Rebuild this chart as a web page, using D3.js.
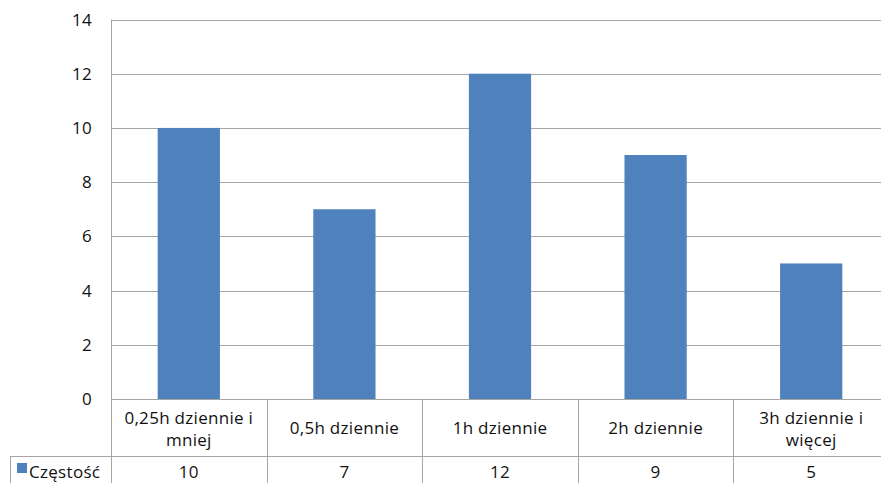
<!DOCTYPE html>
<html>
<head>
<meta charset="utf-8">
<script src="https://cdn.jsdelivr.net/npm/d3@7"></script>
<style>
  html, body { margin: 0; padding: 0; background: #fff; overflow: hidden; }
  svg { display: block; }
  text { font-family: "Open Sans", Lato, sans-serif; fill: #111; letter-spacing: 0.3px; }
</style>
</head>
<body>
<script>
// Daily time categories and their frequencies
const categories = [
  ["0,25h dziennie i", "mniej"],
  ["0,5h dziennie"],
  ["1h dziennie"],
  ["2h dziennie"],
  ["3h dziennie i", "więcej"]
];
const seriesName = "Częstość";
const values = [10, 7, 12, 9, 5];
const yTicks = [0, 2, 4, 6, 8, 10, 12, 14];

const W = 881, H = 483;
const plotLeft = 111, plotRight = 889, plotTop = 19.5, base = 399;
const rowMid = 456, rowBottom = 490, legendLeft = 10;
const gridColor = "#a6a6a6";
const barColor = "#4f81bd";
const fontSize = "17px";

const svg = d3.select("body").append("svg")
  .attr("width", W).attr("height", H);

const keys = categories.map((c, i) => "c" + i);
const x = d3.scaleBand().domain(keys).range([plotLeft, plotRight]).paddingInner(0).paddingOuter(0);
const y = d3.scaleLinear().domain([0, 14]).range([base, plotTop]);

// Horizontal gridlines
svg.append("g").selectAll("line").data(yTicks.slice(1)).join("line")
  .attr("x1", plotLeft).attr("x2", plotRight)
  .attr("y1", d => Math.round(y(d)) + 0.5).attr("y2", d => Math.round(y(d)) + 0.5)
  .attr("stroke", gridColor).attr("stroke-width", 1);

// Tick labels
svg.append("g").selectAll("text").data(yTicks).join("text")
  .attr("x", 92).attr("y", d => y(d) + 6)
  .attr("text-anchor", "end")
  .style("font-size", fontSize)
  .text(d => d);

// Bars
const bw = x.bandwidth() * 0.4;
svg.append("g").selectAll("rect").data(values).join("rect")
  .attr("x", (d, i) => x(keys[i]) + (x.bandwidth() - bw) / 2)
  .attr("width", bw)
  .attr("y", d => y(d))
  .attr("height", d => y(0) - y(d))
  .attr("fill", barColor);

// Data table lines
const g = svg.append("g").attr("stroke", gridColor).attr("stroke-width", 1);
g.append("line").attr("x1", plotLeft).attr("x2", plotRight).attr("y1", base + 0.5).attr("y2", base + 0.5);
g.append("line").attr("x1", legendLeft).attr("x2", plotRight).attr("y1", rowMid + 0.5).attr("y2", rowMid + 0.5);
// Left axis line running down through the table
g.append("line").attr("x1", plotLeft + 0.5).attr("x2", plotLeft + 0.5).attr("y1", plotTop).attr("y2", rowBottom);
g.append("line").attr("x1", legendLeft + 0.5).attr("x2", legendLeft + 0.5).attr("y1", rowMid).attr("y2", rowBottom);
// Column dividers
g.selectAll("line.div").data(keys.slice(1).concat(["end"])).join("line").attr("class", "div")
  .attr("x1", d => Math.round(d === "end" ? plotRight : x(d)) + 0.5)
  .attr("x2", d => Math.round(d === "end" ? plotRight : x(d)) + 0.5)
  .attr("y1", base).attr("y2", rowBottom);

// Category labels
const cat = svg.append("g").selectAll("text").data(categories).join("text")
  .attr("text-anchor", "middle")
  .style("font-size", fontSize)
  .attr("transform", (d, i) => `translate(${x(keys[i]) + x.bandwidth() / 2},${d.length > 1 ? 424 : 434})`);
cat.selectAll("tspan").data(d => d).join("tspan")
  .attr("x", 0).attr("dy", (d, j) => j === 0 ? 0 : 22)
  .text(d => d);

// Value row
svg.append("g").selectAll("text").data(values).join("text")
  .attr("x", (d, i) => x(keys[i]) + x.bandwidth() / 2)
  .attr("y", 478)
  .attr("text-anchor", "middle")
  .style("font-size", fontSize)
  .text(d => d);

// Legend key in the table
svg.append("rect").attr("x", 17).attr("y", 463).attr("width", 10).attr("height", 10).attr("fill", barColor);
svg.append("text").attr("x", 29).attr("y", 478).style("font-size", fontSize).text(seriesName);
</script>
</body>
</html>
